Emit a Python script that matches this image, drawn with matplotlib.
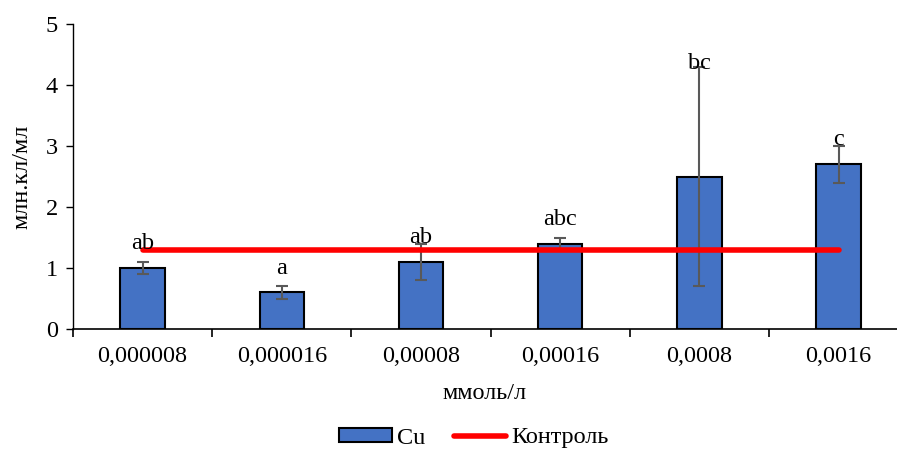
import matplotlib.pyplot as plt
from matplotlib.patches import Patch
from matplotlib.lines import Line2D
import numpy as np

# data
categories = ['0,000008', '0,000016', '0,00008', '0,00016', '0,0008', '0,0016']
cu_values = [1.0, 0.6, 1.1, 1.4, 2.5, 2.7]
cu_errors = [0.1, 0.1, 0.3, 0.1, 1.8, 0.3]
letters = ['ab', 'a', 'ab', 'abc', 'bc', 'c']
control_value = 1.3

plt.rcParams['font.family'] = ['Liberation Serif', 'DejaVu Serif']
FS = 17.5

fig = plt.figure(figsize=(8.97, 4.5), dpi=100)
ax = fig.add_axes([73 / 897, 1 - 329 / 450, 1 - 73 / 897, (329 - 24) / 450])

x = np.arange(len(categories))
ax.bar(x, cu_values, width=0.32, color='#4472C4', edgecolor='black',
       linewidth=1.5, zorder=2)
ax.errorbar(x, cu_values, yerr=cu_errors, fmt='none', ecolor='#595959',
            elinewidth=1.5, capsize=4, capthick=1.5, zorder=3)
ax.plot([x[0], x[-1]], [control_value, control_value], color='#FF0000',
        linewidth=4, solid_capstyle='round', zorder=4)

# letters sit above the bar top, "bc" was moved up past its error bar
for i, (v, t) in enumerate(zip(cu_values, letters)):
    y = v + 0.4
    if t == 'bc':
        y = v + cu_errors[i] + 0.06
    ax.text(x[i], y, t, ha='center', va='center', fontsize=FS, zorder=5)

ax.set_yticks(range(6))
ax.set_xticks(x)
ax.set_xticklabels(categories)
ax.set_xticks(np.arange(-0.5, len(categories), 1.0), minor=True)
ax.set_xlim(-0.5, 5.42)
ax.set_ylim(0, 5)
ax.tick_params(axis='x', which='major', length=0, pad=12, labelsize=FS)
ax.tick_params(axis='x', which='minor', length=6, width=1.2, direction='out')
ax.tick_params(axis='y', length=5, width=1, labelsize=FS, pad=6)
for s in ['top', 'right']:
    ax.spines[s].set_visible(False)
ax.spines['left'].set_linewidth(1)
ax.spines['bottom'].set_linewidth(1.2)

ax.set_ylabel('млн.кл/мл', fontsize=FS, labelpad=9)
ax.set_xlabel('ммоль/л', fontsize=FS, labelpad=12)

handles = [Patch(facecolor='#4472C4', edgecolor='black', linewidth=1.5),
           Line2D([0], [0], color='#FF0000', linewidth=4, solid_capstyle='round')]
fig.legend(handles, ['Cu', 'Контроль'], loc='center',
           bbox_to_anchor=(474 / 897, 1 - 438 / 450), ncol=2,
           frameon=False, fontsize=FS, handlelength=2.15, handleheight=0.55,
           columnspacing=1.2, handletextpad=0.2)

fig.savefig('out.png', dpi=100)
